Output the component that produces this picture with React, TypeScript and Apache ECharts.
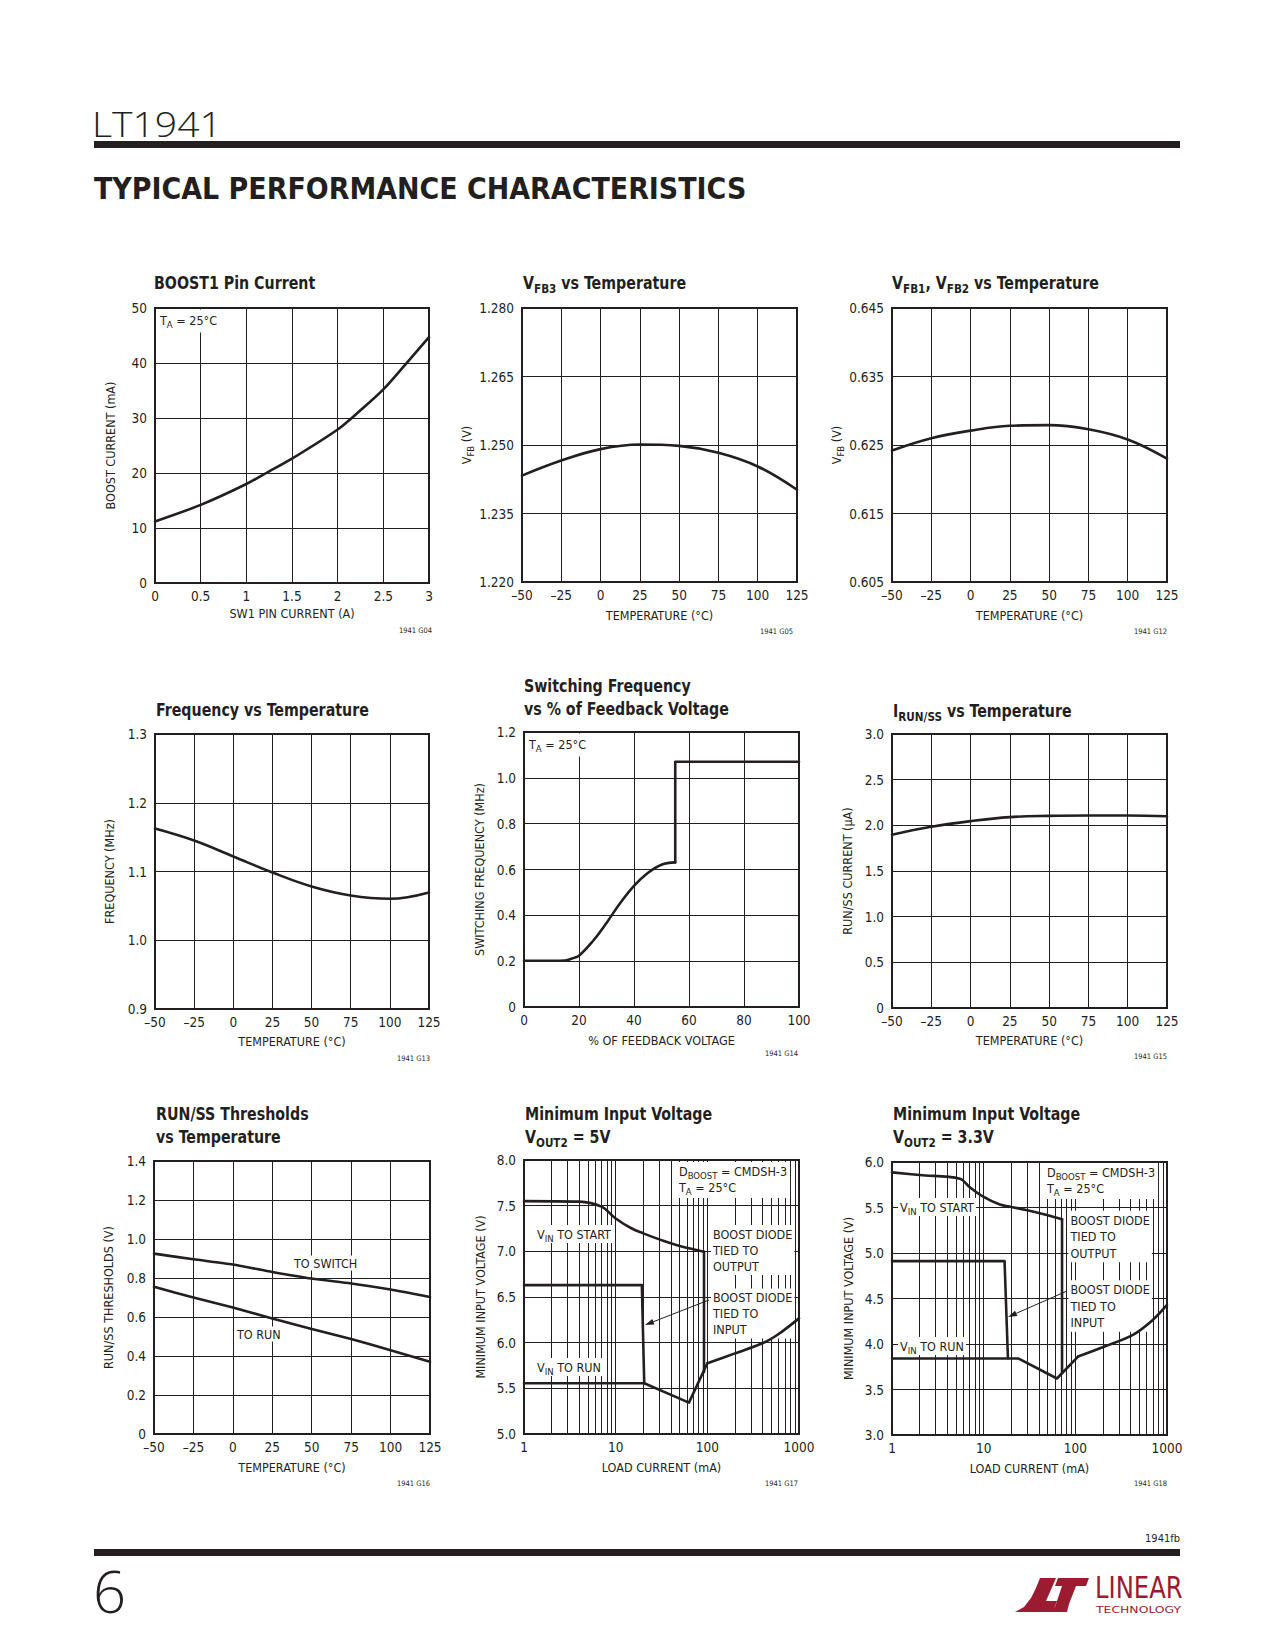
import React, { useEffect, useRef } from "react";
import * as echarts from "echarts";

const INK = "#231f20";
const LOGO_RED = "#9b1b30";
const COND = "'Liberation Sans Narrow', 'DejaVu Sans Condensed', 'Roboto Condensed', 'Arial Narrow', 'Liberation Sans', sans-serif";
const THIN = "'Open Sans', Lato, 'Liberation Sans', sans-serif";

// ---------------- values ----------------
const temperatureC = [-50, -25, 0, 25, 50, 75, 100, 125];

const sw1CurrentA = [0, 0.5, 1, 1.25, 1.5, 2, 2.25, 2.5, 2.75, 3];
const boostCurrentMA = [11.2, 14.2, 18.0, 20.3, 22.6, 27.9, 31.4, 35.2, 39.9, 44.7];

const vfb3V = [1.2433, 1.2466, 1.2491, 1.2501, 1.2498, 1.2483, 1.2453, 1.2402];
const vfb12V = [0.6242, 0.626, 0.6271, 0.6278, 0.6279, 0.6273, 0.6258, 0.623];
const frequencyMHz = [1.1625, 1.145, 1.1218, 1.0985, 1.0782, 1.0651, 1.0603, 1.0695];

const feedbackPct = [0, 10, 15, 17.5, 20, 25, 30, 35, 40, 45, 50, 55];
const switchingMHz = [0.202, 0.202, 0.203, 0.212, 0.224, 0.287, 0.367, 0.454, 0.529, 0.585, 0.621, 0.631];
const feedbackStepPct = [55, 55, 100];
const switchingStepMHz = [0.631, 1.07, 1.07];

const irunUA = [1.897, 1.984, 2.046, 2.09, 2.104, 2.108, 2.108, 2.1];
const toSwitchV = [0.925, 0.896, 0.869, 0.831, 0.797, 0.772, 0.741, 0.703];
const toRunV = [0.755, 0.7, 0.649, 0.592, 0.538, 0.487, 0.43, 0.37];

// Minimum input voltage, VOUT2 = 5V
const v5StartMA = [1, 4, 7, 10, 15, 20, 30, 50, 92];
const v5StartV = [7.55, 7.544, 7.489, 7.36, 7.25, 7.197, 7.131, 7.058, 6.996];
const v5StartDropMA = [92, 92];
const v5StartDropV = [6.996, 5.68];
const v5InputMA = [1, 19.3, 20.5];
const v5InputV = [6.63, 6.63, 5.555];
const v5RunMA = [1, 20.5, 63, 100];
const v5RunV = [5.555, 5.555, 5.343, 5.774];
const v5RunHighMA = [100, 200, 400, 600, 1000];
const v5RunHighV = [5.774, 5.883, 5.993, 6.095, 6.266];

// Minimum input voltage, VOUT2 = 3.3V
const v33StartMA = [1, 2, 5.5, 7, 10, 15, 20, 30, 50, 71.6];
const v33StartV = [5.886, 5.857, 5.817, 5.726, 5.616, 5.532, 5.506, 5.47, 5.415, 5.371];
const v33StartDropMA = [71.6, 71.6];
const v33StartDropV = [5.371, 3.68];
const v33InputMA = [1, 16.9, 18.4];
const v33InputV = [4.911, 4.911, 3.844];
const v33RunMA = [1, 24.1, 63, 107];
const v33RunV = [3.84, 3.84, 3.621, 3.862];
const v33RunHighMA = [107, 209, 425, 700, 1000];
const v33RunHighV = [3.862, 3.972, 4.1, 4.264, 4.429];

// axis ranges [min, max, interval]
const tempAxis = [-50, 125, 25];
const sw1Axis = [0, 3, 0.5];
const boostAxis = [0, 50, 10];
const vfb3Axis = [1.22, 1.28, 0.015];
const vfb12Axis = [0.605, 0.645, 0.01];
const freqAxis = [0.9, 1.3, 0.1];
const fbPctAxis = [0, 100, 20];
const swFreqAxis = [0, 1.2, 0.2];
const irunAxis = [0, 3, 0.5];
const thrAxis = [0, 1.4, 0.2];
const loadAxis = [1, 1000];
const vin5Axis = [5, 8, 0.5];
const vin33Axis = [3, 6, 0.5];
const logMinorGridMA = [2, 3, 4, 5, 6, 7, 8, 9, 20, 30, 40, 50, 60, 70, 80, 90, 200, 300, 400, 500, 600, 700, 800, 900];

// ---------------- formatting helpers ----------------
const fmtInt = (v: number) => String(Math.round(v * 1000) / 1000);
const fmtTemp = (v: number) => (v < 0 ? "\u2013" + Math.abs(v) : String(v));
const fmt3 = (v: number) => v.toFixed(3);
const fmt1 = (v: number) => v.toFixed(1);
const fmt1z = (v: number) => (Math.abs(v) < 1e-9 ? "0" : v.toFixed(1));
const fmtLog = (v: number) => String(Math.round(v));

const nameRich = {
  n: { fontFamily: COND, fontSize: 12.5, color: INK, lineHeight: 16 },
  s: { fontFamily: COND, fontSize: 9.5, color: INK, lineHeight: 16, padding: [8, 0, 0, 0] },
};

type Ser = { xs: number[]; ys: number[]; smooth?: number | boolean; minor?: number[] };
type AxisDef = { range: number[]; log?: boolean; fmt: (v: number) => string; name: string; gap: number };
type PanelDef = { grid: number[]; x: AxisDef; y: AxisDef; series: Ser[] };

const panels: PanelDef[] = [
  {
    grid: [155, 308, 274, 275],
    x: { range: sw1Axis, fmt: fmtInt, name: "SW1 PIN CURRENT (A)", gap: 24 },
    y: { range: boostAxis, fmt: fmtInt, name: "BOOST CURRENT (mA)", gap: 38 },
    series: [{ xs: sw1CurrentA, ys: boostCurrentMA, smooth: 0.3 }],
  },
  {
    grid: [522, 308, 275, 274],
    x: { range: tempAxis, fmt: fmtTemp, name: "TEMPERATURE (\u00b0C)", gap: 27 },
    y: { range: vfb3Axis, fmt: fmt3, name: "{n|V}{s|FB}{n| (V)}", gap: 39 },
    series: [{ xs: temperatureC, ys: vfb3V, smooth: 0.4 }],
  },
  {
    grid: [892, 308, 275, 274],
    x: { range: tempAxis, fmt: fmtTemp, name: "TEMPERATURE (\u00b0C)", gap: 27 },
    y: { range: vfb12Axis, fmt: fmt3, name: "{n|V}{s|FB}{n| (V)}", gap: 39 },
    series: [{ xs: temperatureC, ys: vfb12V, smooth: 0.4 }],
  },
  {
    grid: [155, 734, 274, 275],
    x: { range: tempAxis, fmt: fmtTemp, name: "TEMPERATURE (\u00b0C)", gap: 26 },
    y: { range: freqAxis, fmt: fmt1, name: "FREQUENCY (MHz)", gap: 39 },
    series: [{ xs: temperatureC, ys: frequencyMHz, smooth: 0.4 }],
  },
  {
    grid: [524, 732, 275, 275],
    x: { range: fbPctAxis, fmt: fmtInt, name: "% OF FEEDBACK VOLTAGE", gap: 27 },
    y: { range: swFreqAxis, fmt: fmt1z, name: "SWITCHING FREQUENCY (MHz)", gap: 38 },
    series: [
      { xs: feedbackPct, ys: switchingMHz, smooth: 0.4 },
      { xs: feedbackStepPct, ys: switchingStepMHz, smooth: false },
    ],
  },
  {
    grid: [892, 734, 275, 274],
    x: { range: tempAxis, fmt: fmtTemp, name: "TEMPERATURE (\u00b0C)", gap: 26 },
    y: { range: irunAxis, fmt: fmt1z, name: "RUN/SS CURRENT (\u03bcA)", gap: 38 },
    series: [{ xs: temperatureC, ys: irunUA, smooth: 0.4 }],
  },
  {
    grid: [154, 1161, 276, 273],
    x: { range: tempAxis, fmt: fmtTemp, name: "TEMPERATURE (\u00b0C)", gap: 27 },
    y: { range: thrAxis, fmt: fmt1z, name: "RUN/SS THRESHOLDS (V)", gap: 39 },
    series: [
      { xs: temperatureC, ys: toSwitchV, smooth: 0.2 },
      { xs: temperatureC, ys: toRunV, smooth: 0.2 },
    ],
  },
  {
    grid: [524, 1160, 275, 274],
    x: { range: loadAxis, log: true, fmt: fmtLog, name: "LOAD CURRENT (mA)", gap: 27 },
    y: { range: vin5Axis, fmt: fmt1, name: "MINIMUM INPUT VOLTAGE (V)", gap: 37 },
    series: [
      { xs: v5StartMA, ys: v5StartV, smooth: 0.35 },
      { xs: v5StartDropMA, ys: v5StartDropV, smooth: false },
      { xs: v5InputMA, ys: v5InputV, smooth: false },
      { xs: v5RunMA, ys: v5RunV, smooth: false },
      { xs: v5RunHighMA, ys: v5RunHighV, smooth: 0.3, minor: logMinorGridMA },
    ],
  },
  {
    grid: [892, 1162, 275, 273],
    x: { range: loadAxis, log: true, fmt: fmtLog, name: "LOAD CURRENT (mA)", gap: 27 },
    y: { range: vin33Axis, fmt: fmt1, name: "MINIMUM INPUT VOLTAGE (V)", gap: 37 },
    series: [
      { xs: v33StartMA, ys: v33StartV, smooth: 0.35 },
      { xs: v33StartDropMA, ys: v33StartDropV, smooth: false },
      { xs: v33InputMA, ys: v33InputV, smooth: false },
      { xs: v33RunMA, ys: v33RunV, smooth: false },
      { xs: v33RunHighMA, ys: v33RunHighV, smooth: 0.3, minor: logMinorGridMA },
    ],
  },
];

// ---------------- graphic helpers ----------------
const T = (x: number, y: number, text: string, o: any = {}, el: any = {}) => ({
  type: "text",
  x,
  y,
  z: 100,
  silent: true,
  ...el,
  style: {
    text,
    fill: INK,
    fontFamily: COND,
    fontSize: 12.5,
    fontWeight: "normal",
    textAlign: "left",
    textVerticalAlign: "middle",
    ...o,
  },
});
// in-plot annotation: above the grid lines, below the curves
const A = (x: number, y: number, text: string, o: any = {}) => T(x, y, text, o, { z: 3 });
// chart title: condensed horizontally like the original typeface
const TT = (x: number, y: number, text: string) => T(x, y, text, { rich: titleRich }, { scaleX: 0.93 });

const smallRich = {
  n: { fontFamily: COND, fontSize: 12.5, fill: INK, lineHeight: 16 },
  s: { fontFamily: COND, fontSize: 9.5, fill: INK, lineHeight: 16, padding: [8, 0, 0, 0] },
};
const titleRich = {
  b: { fontFamily: COND, fontSize: 17, fontWeight: "bold", fill: INK, lineHeight: 23 },
  bs: { fontFamily: COND, fontSize: 12.5, fontWeight: "bold", fill: INK, lineHeight: 23, padding: [11, 0, 0, 0] },
};
const boxed = { backgroundColor: "#fff", padding: [1, 2, 1, 2] };

function arrow(x1: number, y1: number, x2: number, y2: number) {
  const dx = x2 - x1;
  const dy = y2 - y1;
  const L = Math.hypot(dx, dy);
  const ux = dx / L;
  const uy = dy / L;
  const hl = 9;
  const hw = 3;
  const bx = x2 - ux * hl;
  const by = y2 - uy * hl;
  return [
    { type: "line", z: 101, silent: true, shape: { x1, y1, x2: bx, y2: by }, style: { stroke: INK, lineWidth: 1 } },
    {
      type: "polygon",
      z: 101,
      silent: true,
      shape: { points: [[x2, y2], [bx - uy * hw, by + ux * hw], [bx + uy * hw, by - ux * hw]] },
      style: { fill: INK },
    },
  ];
}

function buildOption() {
  const grid = panels.map((p) => ({
    left: p.grid[0],
    top: p.grid[1],
    width: p.grid[2],
    height: p.grid[3],
    show: true,
    borderColor: INK,
    borderWidth: 2,
    backgroundColor: "transparent",
  }));

  const axisCommon = (a: AxisDef) => ({
    axisLine: { show: false },
    axisTick: { show: false },
    splitLine: { show: true, lineStyle: { color: INK, width: 1 } },
    axisLabel: { color: INK, fontFamily: COND, fontSize: 13.5, formatter: a.fmt },
    name: a.name,
    nameLocation: "middle",
    nameGap: a.gap,
    nameTextStyle: { color: INK, fontFamily: COND, fontSize: 12.5, rich: nameRich },
  });

  const xAxis = panels.map((p, i) => {
    const c: any = axisCommon(p.x);
    c.axisLabel.margin = 6;
    if (p.x.log) {
      return { ...c, gridIndex: i, type: "log", logBase: 10, min: p.x.range[0], max: p.x.range[1] };
    }
    return { ...c, gridIndex: i, type: "value", min: p.x.range[0], max: p.x.range[1], interval: p.x.range[2] };
  });

  const yAxis = panels.map((p, i) => {
    const c: any = axisCommon(p.y);
    c.axisLabel.margin = 8;
    return {
      ...c,
      gridIndex: i,
      type: "value",
      min: p.y.range[0],
      max: p.y.range[1],
      interval: p.y.range[2],
      nameRotate: 90,
    };
  });

  const series: any[] = [];
  panels.forEach((p, i) => {
    p.series.forEach((s) => {
      const item: any = {
        type: "line",
        xAxisIndex: i,
        yAxisIndex: i,
        data: s.xs.map((x, k) => [x, s.ys[k]]),
        symbol: "none",
        showSymbol: false,
        smooth: s.smooth,
        silent: true,
        z: 5,
        lineStyle: { color: INK, width: 2.6, cap: "round", join: "round" },
      };
      if (s.minor) {
        item.markLine = {
          silent: true,
          symbol: "none",
          animation: false,
          label: { show: false },
          emphasis: { disabled: true },
          lineStyle: { color: INK, width: 1, type: "solid" },
          data: s.minor.map((v) => ({ xAxis: v })),
          z: 1,
        };
      }
      series.push(item);
    });
  });

  const codes = [
    [432, 630, "1941 G04"],
    [793, 631, "1941 G05"],
    [1167, 631, "1941 G12"],
    [430, 1058, "1941 G13"],
    [798, 1053, "1941 G14"],
    [1167, 1056, "1941 G15"],
    [430, 1483, "1941 G16"],
    [798, 1483, "1941 G17"],
    [1167, 1483, "1941 G18"],
  ];

  const graphic: any[] = [
    // page header
    T(92, 124, "LT1941", { fontFamily: THIN, fontSize: 34, fontWeight: 300 }, { scaleX: 1.15 }),
    { type: "rect", z: 100, silent: true, shape: { x: 94, y: 141, width: 1086, height: 7 }, style: { fill: INK } },
    T(94, 188, "TYPICAL PERFORMANCE CHARACTERISTICS", { fontFamily: COND, fontSize: 31, fontWeight: 900 }, { scaleX: 0.965 }),

    // chart titles
    TT(154, 283, "{b|BOOST1 Pin Current}"),
    TT(523, 283, "{b|V}{bs|FB3}{b| vs Temperature}"),
    TT(892, 283, "{b|V}{bs|FB1}{b|, V}{bs|FB2}{b| vs Temperature}"),
    TT(156, 710, "{b|Frequency vs Temperature}"),
    TT(524, 698, "{b|Switching Frequency}\n{b|vs % of Feedback Voltage}"),
    TT(893, 711, "{b|I}{bs|RUN/SS}{b| vs Temperature}"),
    TT(156, 1126, "{b|RUN/SS Thresholds}\n{b|vs Temperature}"),
    TT(525, 1126, "{b|Minimum Input Voltage}\n{b|V}{bs|OUT2}{b| = 5V}"),
    TT(893, 1126, "{b|Minimum Input Voltage}\n{b|V}{bs|OUT2}{b| = 3.3V}"),

    // in-plot annotations
    A(157, 321, "{n|T}{s|A}{n| = 25\u00b0C}", { rich: smallRich, backgroundColor: "#fff", padding: [3, 4, 4, 3] }),
    A(526, 745, "{n|T}{s|A}{n| = 25\u00b0C}", { rich: smallRich, backgroundColor: "#fff", padding: [3, 4, 4, 3] }),
    A(292, 1263, "TO SWITCH", boxed),
    A(235, 1334, "TO RUN", boxed),

    A(676, 1180, "{n|D}{s|BOOST}{n| = CMDSH-3}\n{n|T}{s|A}{n| = 25\u00b0C}", { rich: smallRich, backgroundColor: "#fff", padding: [1, 3, 3, 3] }),
    A(535, 1234, "{n|V}{s|IN}{n| TO START}", { rich: smallRich, ...boxed }),
    A(535, 1367, "{n|V}{s|IN}{n| TO RUN}", { rich: smallRich, ...boxed }),
    A(711, 1250, "BOOST DIODE\nTIED TO\nOUTPUT", { lineHeight: 16, ...boxed }),
    A(711, 1313.5, "BOOST DIODE\nTIED TO\nINPUT", { lineHeight: 16, ...boxed }),
    ...arrow(709, 1300, 645, 1325),

    A(1044, 1181, "{n|D}{s|BOOST}{n| = CMDSH-3}\n{n|T}{s|A}{n| = 25\u00b0C}", { rich: smallRich, backgroundColor: "#fff", padding: [1, 3, 3, 3] }),
    A(898, 1207, "{n|V}{s|IN}{n| TO START}", { rich: smallRich, ...boxed }),
    A(898, 1346, "{n|V}{s|IN}{n| TO RUN}", { rich: smallRich, ...boxed }),
    A(1068.5, 1236.5, "BOOST DIODE\nTIED TO\nOUTPUT", { lineHeight: 16.5, ...boxed }),
    A(1068.5, 1306, "BOOST DIODE\nTIED TO\nINPUT", { lineHeight: 16.5, ...boxed }),
    ...arrow(1067, 1291, 1008, 1317),

    // figure codes
    ...codes.map((c) => T(c[0] as number, c[1] as number, c[2] as string, { fontSize: 7.5, textAlign: "right" })),

    // page footer
    T(1180, 1538, "1941fb", { fontSize: 11, textAlign: "right" }),
    { type: "rect", z: 100, silent: true, shape: { x: 94, y: 1549, width: 1086, height: 7 }, style: { fill: INK } },
    T(93, 1590, "6", { fontFamily: THIN, fontSize: 58, fontWeight: 300 }),

    // logo
    {
      type: "polygon",
      z: 100,
      silent: true,
      shape: {
        points: [
          [1015, 1612], [1024, 1607], [1031, 1598], [1036, 1588], [1040, 1578], [1056, 1578],
          [1046, 1601], [1057, 1601], [1053, 1612],
        ],
      },
      style: { fill: LOGO_RED },
    },
    {
      type: "polygon",
      z: 100,
      silent: true,
      shape: {
        points: [
          [1058, 1578], [1089, 1578], [1086, 1586], [1076, 1586], [1069, 1604], [1067, 1612],
          [1049, 1612], [1055, 1607], [1062, 1586], [1055, 1586],
        ],
      },
      style: { fill: LOGO_RED },
    },
    T(1095, 1588, "LINEAR", { fill: LOGO_RED, fontSize: 30, fontFamily: COND }, { scaleX: 0.9 }),
    T(1096, 1609.5, "TECHNOLOGY", { fill: LOGO_RED, fontSize: 9.5, fontFamily: COND }, { scaleX: 1.45 }),
  ];

  return {
    animation: false,
    backgroundColor: "#ffffff",
    textStyle: { fontFamily: COND, color: INK },
    grid,
    xAxis,
    yAxis,
    series,
    graphic: { elements: graphic },
  };
}

export default function App() {
  const ref = useRef<HTMLDivElement>(null);
  useEffect(() => {
    if (!ref.current) return;
    const chart = echarts.init(ref.current, undefined, { renderer: "svg" });
    chart.setOption(buildOption() as any);
    return () => chart.dispose();
  }, []);
  return (
    <div
      ref={ref}
      style={{ position: "absolute", left: 0, top: 0, width: 1275, height: 1650, background: "#fff" }}
    />
  );
}
